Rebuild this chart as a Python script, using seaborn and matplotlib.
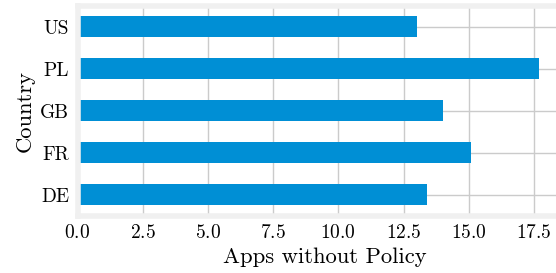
import matplotlib
matplotlib.use("Agg")
import matplotlib.pyplot as plt
import seaborn as sns
import pandas as pd

# data
countries = ["DE", "FR", "GB", "PL", "US"]
apps_without_policy = [13.4, 15.1, 14.0, 17.7, 13.0]

plt.style.use("fivethirtyeight")
plt.rcParams["font.family"] = "cmr10"
plt.rcParams["mathtext.fontset"] = "cm"
plt.rcParams["axes.formatter.use_mathtext"] = True

df = pd.DataFrame({"Country": countries, "Apps without Policy": apps_without_policy})

W, H = 556, 273
x_max = 19.0
px_per_unit = 26.08
fig = plt.figure(figsize=(W / 100, H / 100), dpi=100, facecolor="white")
# axes runs past the right edge of the canvas, like the cropped original
ax = fig.add_axes([77.5 / W, (H - 216) / H, x_max * px_per_unit / W, (216 - 5.7) / H])
ax.set_facecolor("white")

sns.barplot(data=df, x="Apps without Policy", y="Country", order=countries[::-1],
            orient="h", width=0.5, color="#008fd5", saturation=1, ax=ax)

ax.grid(True, color="#cbcbcb", linewidth=1)
ax.set_axisbelow(True)
for s in ax.spines.values():
    s.set_visible(True)
    s.set_color("#f0f0f0")
    s.set_linewidth(4)

ax.set_xlim(0, x_max)
ax.set_xticks([0, 2.5, 5, 7.5, 10, 12.5, 15, 17.5])
ax.tick_params(axis="both", length=0, labelsize=14, labelcolor="black", pad=6)
ax.set_xlabel("Apps without Policy", fontsize=16.3, color="black")
ax.set_ylabel("Country", fontsize=16.3, color="black")

fig.savefig("out.png", dpi=100, facecolor="white")
